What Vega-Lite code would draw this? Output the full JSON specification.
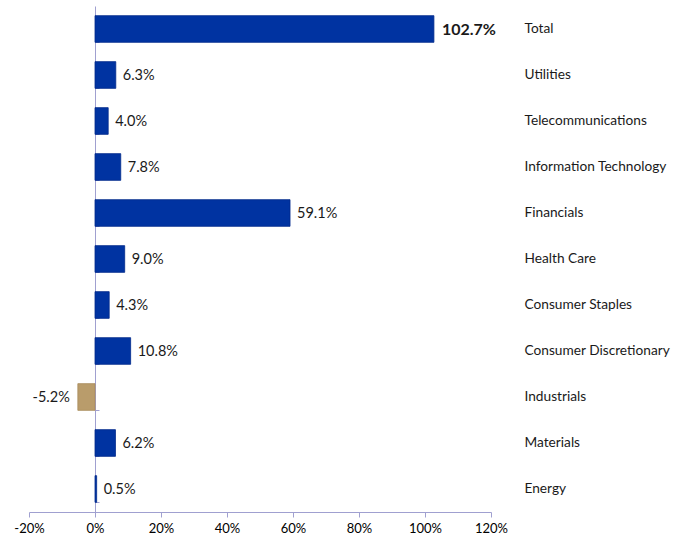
{
  "$schema": "https://vega.github.io/schema/vega-lite/v6.json",
  "width": 462,
  "height": 506,
  "autosize": {"type": "none"},
  "padding": {"left": 29, "top": 6, "right": 198, "bottom": 33},
  "background": "white",
  "config": {
    "view": {"stroke": null},
    "font": "Lato",
    "locale": {"number": {"decimal": ".", "thousands": ",", "grouping": [3], "currency": ["$", ""], "minus": "-"}}
  },
  "data": {
    "values": [
      {"sector": "Total", "value": 1.027},
      {"sector": "Utilities", "value": 0.063},
      {"sector": "Telecommunications", "value": 0.040},
      {"sector": "Information Technology", "value": 0.078},
      {"sector": "Financials", "value": 0.591},
      {"sector": "Health Care", "value": 0.090},
      {"sector": "Consumer Staples", "value": 0.043},
      {"sector": "Consumer Discretionary", "value": 0.108},
      {"sector": "Industrials", "value": -0.052},
      {"sector": "Materials", "value": 0.062},
      {"sector": "Energy", "value": 0.005}
    ]
  },
  "encoding": {
    "y": {
      "field": "sector",
      "type": "nominal",
      "sort": null,
      "axis": null,
      "scale": {"paddingInner": 0.42, "paddingOuter": 0.21}
    },
    "x": {
      "field": "value",
      "type": "quantitative",
      "scale": {"domain": [-0.2, 1.2], "nice": false, "zero": false},
      "axis": {
        "values": [-0.2, 0, 0.2, 0.4, 0.6, 0.8, 1.0, 1.2],
        "format": ".0%",
        "title": null,
        "grid": false,
        "labelFlush": false,
        "domainColor": "#a0a0d0",
        "tickColor": "#a0a0d0",
        "tickSize": 5,
        "labelFontSize": 13,
        "labelColor": "#000000",
        "labelPadding": 5,
        "labelFont": "Lato"
      }
    }
  },
  "layer": [
    {
      "mark": {"type": "bar", "strokeWidth": 0.8},
      "encoding": {
        "color": {
          "condition": {"test": "datum.value < 0", "value": "#B99C6B"},
          "value": "#0033A1"
        },
        "stroke": {
          "condition": {"test": "datum.value < 0", "value": "#A88B5C"},
          "value": "#002A8A"
        },
        "y": {
          "field": "sector",
          "type": "nominal",
          "sort": null,
          "axis": {
            "orient": "left",
            "offset": -66,
            "labels": false,
            "title": null,
            "tickBand": "extent",
            "domainColor": "#a0a0d0",
            "tickColor": "#a0a0d0",
            "tickSize": -4
          }
        }
      }
    },
    {
      "transform": [{"filter": "datum.value >= 0 && datum.sector != 'Total'"}],
      "mark": {"type": "text", "align": "left", "dx": 7, "dy": 1, "fontSize": 14.5, "color": "#1a1a1a", "font": "Lato"},
      "encoding": {
        "text": {"field": "value", "type": "quantitative", "format": ".1%"},
        "y": {
          "field": "sector",
          "type": "nominal",
          "sort": null,
          "axis": {
            "orient": "right",
            "title": null,
            "domain": false,
            "ticks": false,
            "labelPadding": 33,
            "labelFontSize": 13.7,
            "labelColor": "#1a1a1a",
            "labelFont": "Lato",
            "labelLimit": 300
          }
        }
      }
    },
    {
      "transform": [{"filter": "datum.sector == 'Total'"}],
      "mark": {"type": "text", "align": "left", "dx": 8, "dy": 1, "fontSize": 16, "fontWeight": "bold", "color": "#1a1a1a", "font": "Lato"},
      "encoding": {
        "text": {"field": "value", "type": "quantitative", "format": ".1%"}
      }
    },
    {
      "transform": [{"filter": "datum.value < 0"}],
      "mark": {"type": "text", "align": "right", "dx": -8, "dy": 1, "fontSize": 14.5, "color": "#1a1a1a", "font": "Lato"},
      "encoding": {
        "text": {"field": "value", "type": "quantitative", "format": ".1%"}
      }
    }
  ],
  "resolve": {"axis": {"y": "independent"}}
}
